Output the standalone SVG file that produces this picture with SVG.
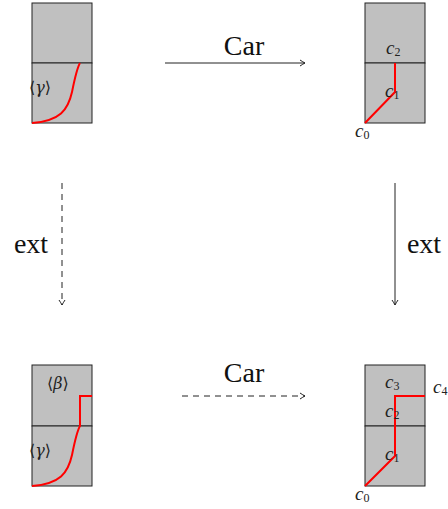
<svg xmlns="http://www.w3.org/2000/svg" width="448" height="509" viewBox="0 0 448 509">
<style>
.box{fill:#c0c0c0;stroke:#222;stroke-width:1}
.red{fill:none;stroke:#ff0000;stroke-width:2;stroke-linejoin:miter}
.conn{fill:none;stroke:#222;stroke-width:1}
.dash{stroke-dasharray:6,5}
.big{font-family:"Liberation Serif","DejaVu Serif",serif;font-size:28px;fill:#111}
.lab{font-family:"Liberation Serif","DejaVu Serif",serif;font-size:19px;fill:#222}
.ang{font-family:"DejaVu Serif","Liberation Serif",serif;font-size:16px;fill:#222}
.sub{font-size:12px}
</style>
<defs>
<marker id="ah" markerWidth="8" markerHeight="8" refX="6" refY="4" orient="auto" markerUnits="userSpaceOnUse">
<path d="M1,1 Q4,3 6,4 Q4,5 1,7" fill="none" stroke="#222" stroke-width="1"/>
</marker>
</defs>
<rect width="448" height="509" fill="#fff"/>

<g id="node-tl">
<rect class="box" x="32" y="3" width="60" height="60"/>
<rect class="box" x="32" y="63" width="60" height="60"/>
<path class="red" d="M32,123 C60,121 68,110 72,92 C75,77 77,68 80,63"/>
<text class="ang" x="29" y="93">⟨<tspan font-style="italic">γ</tspan>⟩</text>
</g>

<g id="node-tr">
<rect class="box" x="365" y="3" width="60" height="60"/>
<rect class="box" x="365" y="63" width="60" height="60"/>
<path class="red" d="M365,123 L395,92 L395,63"/>
<text class="lab" x="386" y="54" font-style="italic">c<tspan class="sub" dy="2" font-style="normal">2</tspan></text>
<text class="lab" x="385" y="97" font-style="italic">c<tspan class="sub" dy="2" font-style="normal">1</tspan></text>
<text class="lab" x="355" y="137" font-style="italic">c<tspan class="sub" dy="2" font-style="normal">0</tspan></text>
</g>

<g id="node-bl">
<rect class="box" x="32" y="365" width="60" height="61"/>
<rect class="box" x="32" y="426" width="60" height="60"/>
<path class="red" d="M32,486 C60,484 68,473 72,455 C75,440 77,431 80,426 L80,396 L92,396"/>
<text class="ang" x="47" y="389">⟨<tspan font-style="italic">β</tspan>⟩</text>
<text class="ang" x="29" y="456">⟨<tspan font-style="italic">γ</tspan>⟩</text>
</g>

<g id="node-br">
<rect class="box" x="365" y="365" width="60" height="61"/>
<rect class="box" x="365" y="426" width="60" height="60"/>
<path class="red" d="M365,486 L395,456 L395,396 L425,396"/>
<text class="lab" x="385" y="388" font-style="italic">c<tspan class="sub" dy="2" font-style="normal">3</tspan></text>
<text class="lab" x="385" y="417" font-style="italic">c<tspan class="sub" dy="2" font-style="normal">2</tspan></text>
<text class="lab" x="385" y="460" font-style="italic">c<tspan class="sub" dy="2" font-style="normal">1</tspan></text>
<text class="lab" x="355" y="500" font-style="italic">c<tspan class="sub" dy="2" font-style="normal">0</tspan></text>
<text class="lab" x="433" y="393" font-style="italic">c<tspan class="sub" dy="2" font-style="normal">4</tspan></text>
</g>

<g id="connectors">
<line class="conn" x1="165" y1="63" x2="305" y2="63" marker-end="url(#ah)"/>
<line class="conn dash" x1="182" y1="396" x2="305" y2="396" marker-end="url(#ah)"/>
<line class="conn dash" x1="62" y1="183" x2="62" y2="305" marker-end="url(#ah)"/>
<line class="conn" x1="395" y1="183" x2="395" y2="305" marker-end="url(#ah)"/>
<text class="big" x="244" y="55" text-anchor="middle">Car</text>
<text class="big" x="244" y="382" text-anchor="middle">Car</text>
<text class="big" x="31" y="253" text-anchor="middle">ext</text>
<text class="big" x="424" y="253" text-anchor="middle">ext</text>
</g>
</svg>
